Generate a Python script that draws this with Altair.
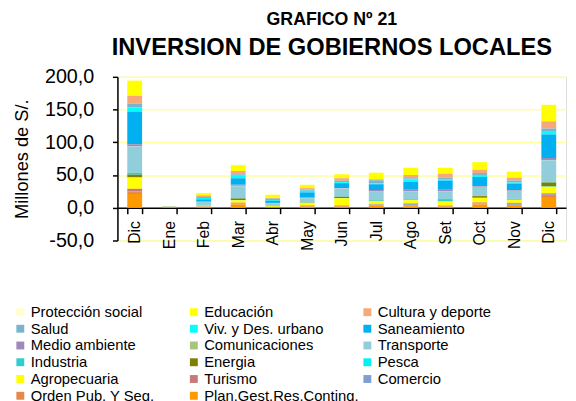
import json
import altair as alt
import pandas as pd

months = ["Dic", "Ene", "Feb", "Mar", "Abr", "May", "Jun", "Jul", "Ago", "Set", "Oct", "Nov", "Dic"]

series = [
    "Protección social", "Educación", "Cultura y deporte",
    "Salud", "Viv. y Des. urbano", "Saneamiento",
    "Medio ambiente", "Comunicaciones", "Transporte",
    "Industria", "Energia", "Pesca",
    "Agropecuaria", "Turismo", "Comercio",
    "Orden Pub. Y Seg.", "Plan.Gest.Res.Conting.",
]

colors = [
    "#FFFFCC", "#FFFF00", "#F8A878",
    "#7AB4CC", "#00FFFF", "#00B0F0",
    "#9F88BA", "#A9C47F", "#92CDDC",
    "#33CCCC", "#808000", "#00F2F2",
    "#FFFF00", "#C87A7A", "#809ECF",
    "#E6884A", "#FF9900",
]

proteccion = [2, 0, 0.5, 1, 0.5, 0.5, 0.5, 0.5, 0.5, 0.5, 0.5, 0.5, 1.5]
educacion = [23, 0, 3.5, 9, 5, 5, 6, 10, 11, 9, 11.5, 9, 25]
cultura = [12, 0, 2.5, 5, 1, 2.5, 4, 1.5, 5, 6, 5, 4.5, 11]
salud = [6, 0, 1.5, 2, 2, 1.5, 2, 5, 2, 3, 3, 3, 5]
vivienda = [6, 0, 2, 4, 1, 2.5, 1.5, 1, 3.5, 1.5, 3, 1.5, 4]
saneamiento = [50, 0, 3.5, 10, 3.5, 8, 7.5, 9, 12, 14, 14, 10, 36]
medio_ambiente = [3, 0, 0.5, 1.5, 0.5, 0.5, 0.5, 2, 2, 2, 1, 1, 3]
comunicaciones = [0.5, 1.5, 0.3, 0.5, 0.3, 0.3, 0.3, 0.3, 0.3, 0.3, 0.3, 0.3, 0.5]
transporte = [40, 0, 4, 18, 3, 6, 12, 13, 12.5, 12, 13.5, 12, 33]
industria = [3, 0, 1, 1, 0.3, 0.5, 0.5, 0.5, 0.5, 3, 0.5, 1, 1]
energia = [4, 0, 0.3, 2, 0.3, 0.5, 2, 0.5, 0.5, 0.5, 2.5, 0.5, 6]
pesca = [0.5, 0, 0.2, 0.5, 0.1, 0.2, 0.3, 0.2, 0.2, 0.2, 0.3, 0.2, 0.5]
agropecuaria = [17, 0, 1, 4, 1.5, 4, 11, 5, 5, 6, 7, 4.5, 10]
turismo = [4, 0, 0.3, 0.5, 0.2, 0.5, 0.5, 1, 1, 0.5, 1, 0.5, 2]
comercio = [1, 0, 0.3, 0.5, 0.2, 0.5, 0.5, 0.5, 2, 0.5, 0.5, 2.5, 2]
orden_pub = [3, 0.2, 0.5, 1.5, 0.5, 1, 1, 1, 1, 1, 1.5, 1.5, 3]
plan_gest = [21, 0.3, 1, 5, 0.5, 1.5, 1.5, 3, 2.5, 1.5, 5, 3, 15]

values = [
    proteccion, educacion, cultura, salud, vivienda, saneamiento,
    medio_ambiente, comunicaciones, transporte, industria, energia, pesca,
    agropecuaria, turismo, comercio, orden_pub, plan_gest,
]

rows = []
n = len(series)
for s_i, (s, vals) in enumerate(zip(series, values)):
    for m_i, v in enumerate(vals):
        rows.append({"idx": m_i, "serie": s, "valor": v, "orden": n - 1 - s_i})
df = pd.DataFrame(rows)

month_expr = json.dumps(months) + "[datum.value]"
y_label_expr = "(datum.value < 0 ? '-' : '') + replace(format(abs(datum.value), '.1f'), '.', ',')"

FONT = "Liberation Sans"

chart = alt.Chart(df).mark_bar().encode(
    x=alt.X(
        "idx:O",
        scale=alt.Scale(paddingInner=0.57, paddingOuter=0.285),
        axis=alt.Axis(
            title=None,
            labelExpr=month_expr,
            labelAngle=270,
            labelFont=FONT,
            labelFontSize=16,
            labelColor="black",
            labelPadding=7,
            offset=-33.2,
            tickBand="extent",
            tickSize=6,
            tickColor="black",
            tickWidth=1.5,
            domainColor="black",
            domainWidth=1.5,
            grid=False,
        ),
    ),
    y=alt.Y(
        "valor:Q",
        stack="zero",
        scale=alt.Scale(domain=[-50, 200], nice=False, zero=False),
        axis=alt.Axis(
            title="Millones de S/.",
            titleFont=FONT,
            titleFontSize=18.5,
            titleFontWeight="normal",
            titleColor="black",
            titlePadding=13,
            values=[-50, 0, 50, 100, 150, 200],
            labelExpr=y_label_expr,
            labelFont=FONT,
            labelFontSize=20,
            labelColor="black",
            labelPadding=19,
            tickSize=5,
            tickColor="black",
            tickWidth=1.5,
            domainColor="black",
            domainWidth=1.5,
            gridColor="#FFFFA0",
            gridWidth=1.5,
        ),
    ),
    color=alt.Color(
        "serie:N",
        scale=alt.Scale(domain=series, range=colors),
        legend=alt.Legend(
            title=None,
            orient="none",
            direction="horizontal",
            legendX=-106,
            legendY=231,
            columns=3,
            gridAlign="all",
            columnPadding=1,
            rowPadding=1,
            labelFont=FONT,
            labelFontSize=15,
            labelColor="black",
            labelLimit=300,
            labelOffset=3,
            symbolType="square",
            symbolSize=64,
            symbolStrokeWidth=0,
            padding=0,
        ),
    ),
    order=alt.Order("orden:Q", sort="ascending"),
).properties(
    width=455,
    height=166,
    autosize=alt.AutoSizeParams(type="none"),
    padding={"left": 111, "top": 67, "right": 2, "bottom": 160},
    title=alt.Title(
        "GRAFICO Nº 21",
        subtitle="INVERSION DE GOBIERNOS LOCALES",
        font=FONT,
        fontSize=18,
        fontWeight="bold",
        color="black",
        subtitleFont=FONT,
        subtitleFontSize=24,
        subtitleFontWeight="bold",
        subtitleColor="black",
        subtitlePadding=8,
        anchor="middle",
        dx=-10,
        offset=7,
    ),
).configure_view(stroke=None).configure(background="white")

chart.save("out.html", embed_options={"renderer": "svg", "actions": False})
